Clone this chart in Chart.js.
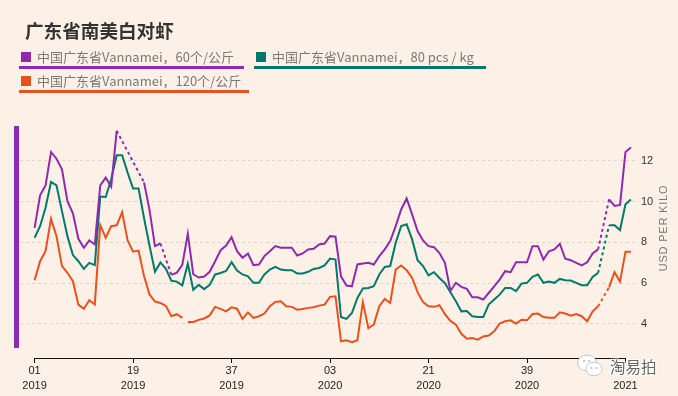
<!DOCTYPE html>
<html>
<head>
<meta charset="utf-8">
<script src="https://cdn.jsdelivr.net/npm/chart.js@4/dist/chart.umd.min.js"></script>
<style>
  html, body { margin: 0; padding: 0; background: #fdf1e7; }
  #wrap { position: relative; width: 678px; height: 396px; overflow: hidden; background: #fdf1e7; }
  #c { position: absolute; left: 0; top: 0; }
  .title { position: absolute; left: 25px; top: 16px; font: 700 18.6px "Noto Sans CJK SC", sans-serif; color: #333; letter-spacing: 0; white-space: nowrap; }
  .leg { position: absolute; height: 20px; white-space: nowrap; font: 13px "Noto Sans CJK SC", sans-serif; color: #7a7a7a; line-height: 18px; }
  .leg .sq { position: absolute; left: 2px; top: 4px; width: 10px; height: 10px; }
  .leg .tx { position: absolute; left: 18px; top: 0; }
  .leg .ul { position: absolute; left: 0; height: 2.5px; top: 18px; }
  .bar { position: absolute; left: 14px; top: 126px; width: 5px; height: 222px; background: #8e2aad; }
  .wm { position: absolute; left: 610px; top: 355px; font: 15.5px "Noto Sans CJK SC", sans-serif; color: #666;
        text-shadow: -1px -1px 0 #fff, 1px -1px 0 #fff, -1px 1px 0 #fff, 1px 1px 0 #fff, 0 0 2px #fff; letter-spacing: 0; }
  .wmi { position: absolute; left: 576px; top: 353px; }
</style>
</head>
<body>
<div id="wrap">
  <canvas id="c" width="678" height="396"></canvas>
  <div class="title">广东省南美白对虾</div>
  <div id="legend"></div>
  <div class="bar"></div>
  <svg class="wmi" width="28" height="26" viewBox="0 0 28 26">
    <ellipse cx="11" cy="10" rx="9.5" ry="8" fill="#fff" stroke="#c8c8c8" stroke-width="1"/>
    <ellipse cx="18" cy="16" rx="8" ry="6.8" fill="#fff" stroke="#c8c8c8" stroke-width="1"/>
    <circle cx="8" cy="8" r="1.1" fill="#bbb"/><circle cx="13" cy="8" r="1.1" fill="#bbb"/>
    <circle cx="15.5" cy="15" r="0.9" fill="#bbb"/><circle cx="20.5" cy="15" r="0.9" fill="#bbb"/>
  </svg>
  <div class="wm">淘易拍</div>
</div>
<script>
// ---- data ----
const years = [2019, 2020, 2021];
const weeksPerYear = [52, 53, 5];
const weeks = [];
years.forEach((y, k) => { for (let w = 1; w <= weeksPerYear[k]; w++) weeks.push(y + '-W' + String(w).padStart(2, '0')); });

const tickIdx = [0, 18, 36, 54, 72, 90, 108];
const tickLabels = [["01", "2019"], ["19", "2019"], ["37", "2019"], ["03", "2020"], ["21", "2020"], ["39", "2020"], ["", "2021"]];

const seriesNames = ["中国广东省Vannamei，60个/公斤", "中国广东省Vannamei，80 pcs / kg", "中国广东省Vannamei，120个/公斤"];
const seriesColors = ["#8e2aad", "#00796b", "#e8501d"];

const purple60 = [8.72,10.31,10.80,12.44,12.11,11.59,10.03,9.43,8.18,7.74,
  8.10,7.90,10.80,11.18,10.74,13.48,null,null,null,null,
  10.95,9.60,7.82,7.95,null,6.41,6.52,6.90,8.43,6.44,
  6.28,6.33,6.56,7.08,7.62,7.85,8.26,7.57,7.25,7.46,
  6.89,6.92,7.33,7.57,7.82,7.74,7.74,7.74,7.36,7.46,
  7.66,7.69,7.90,7.95,8.31,8.28,6.34,5.89,5.85,6.92,
  6.97,7.00,6.92,7.33,7.66,8.07,8.80,9.62,10.16,9.38,
  8.56,8.10,7.82,7.77,7.48,7.00,5.62,6.02,5.82,5.72,
  5.31,5.31,5.20,5.52,5.85,6.18,6.59,6.54,7.03,7.03,
  7.03,7.82,7.82,7.16,7.57,7.66,7.93,7.20,7.13,7.00,
  6.87,7.03,7.46,7.66,null,10.11,9.79,9.84,12.44,12.66];

const green80 = [8.23,8.80,9.70,10.97,10.80,9.54,8.31,7.38,7.08,6.70,
  7.00,6.89,10.25,10.23,11.10,12.28,12.28,11.43,10.65,10.65,
  9.20,7.85,6.56,7.02,6.71,6.12,6.08,5.90,6.96,5.68,
  5.92,5.71,5.92,6.43,6.50,6.60,7.03,6.62,6.43,6.34,
  6.02,6.02,6.43,6.67,6.80,6.67,6.64,6.64,6.48,6.48,
  6.56,6.70,6.75,6.87,7.21,7.16,4.34,4.25,4.54,5.28,
  5.74,5.77,5.85,6.43,6.80,6.84,7.98,8.80,8.89,8.15,
  7.13,6.84,6.38,6.54,6.26,6.00,5.56,5.11,4.62,4.64,
  4.38,4.34,4.34,4.95,5.20,5.44,5.77,5.77,5.61,5.98,
  6.02,6.31,6.43,6.02,6.08,6.02,6.21,6.15,6.13,6.02,
  5.90,5.90,6.31,6.51,null,8.84,8.84,8.61,9.87,10.11];

const orange120 = [6.15,7.08,7.57,9.16,8.31,6.84,6.51,6.10,4.95,4.74,
  5.16,4.95,8.85,8.23,8.80,8.84,9.49,8.10,7.55,7.60,
  6.35,5.45,5.10,5.03,4.88,4.38,4.48,4.30,4.10,4.10,
  4.20,4.27,4.42,4.84,4.74,4.62,4.82,4.75,4.25,4.57,
  4.30,4.38,4.51,4.87,5.08,5.11,4.87,4.84,4.70,4.74,
  4.79,4.82,4.90,4.95,5.33,5.36,3.15,3.20,3.11,3.20,
  5.07,3.80,3.97,4.87,5.23,5.03,6.67,6.87,6.64,6.26,
  5.56,5.07,4.87,4.84,4.92,4.48,4.15,3.97,3.52,3.28,
  3.31,3.23,3.39,3.43,3.64,4.02,4.13,4.18,4.02,4.21,
  4.18,4.49,4.51,4.34,4.30,4.30,4.57,4.51,4.41,4.49,
  4.38,4.13,4.62,4.87,null,5.80,6.54,6.08,7.55,7.55];

// segments that are not drawn (break in the line, no dashes): index of segment start
const purpleBreaks = [];
const greenBreaks = [];
const orangeBreaks = [27];

const seriesValues = [purple60, green80, orange120];
const seriesBreaks = [purpleBreaks, greenBreaks, orangeBreaks];

// ---- legend (HTML) ----
const legendPos = [{l: 19, t: 48, w: 225}, {l: 254, t: 48, w: 232}, {l: 19, t: 72, w: 230}];
const legend = document.getElementById('legend');
seriesNames.forEach((n, k) => {
  const d = document.createElement('div');
  d.className = 'leg';
  d.style.left = legendPos[k].l + 'px';
  d.style.top = legendPos[k].t + 'px';
  d.style.width = legendPos[k].w + 'px';
  d.innerHTML = '<span class="sq" style="background:' + seriesColors[k] + '"></span><span class="tx"></span><span class="ul" style="width:100%;background:' + seriesColors[k] + '"></span>';
  d.querySelector('.tx').textContent = n;
  legend.appendChild(d);
});

// ---- chart ----
const datasets = seriesValues.map((vals, k) => ({
  label: seriesNames[k],
  data: vals.map((v, i) => ({x: i, y: v})),
  borderColor: seriesColors[k],
  borderWidth: 2,
  pointRadius: 0,
  pointHoverRadius: 0,
  tension: 0,
  spanGaps: true,
  segment: {
    borderDash: ctx => (ctx.p1DataIndex > 0 && vals[ctx.p1DataIndex - 1] == null ? [3, 3] : undefined),
    borderColor: ctx => (seriesBreaks[k].includes(ctx.p1DataIndex - 1) && vals[ctx.p1DataIndex - 1] != null ? 'rgba(0,0,0,0)' : undefined)
  }
}));

const decor = {
  id: 'decor',
  afterDraw(chart) {
    const {ctx, chartArea, scales} = chart;
    const x = scales.x;
    ctx.save();
    ctx.strokeStyle = '#111';
    ctx.lineWidth = 1;
    ctx.beginPath();
    const yb = Math.round(chartArea.bottom) + 0.5;
    ctx.moveTo(x.getPixelForValue(tickIdx[0]), yb);
    ctx.lineTo(x.getPixelForValue(tickIdx[tickIdx.length - 1]), yb);
    ctx.stroke();
    // y axis title
    ctx.translate(663.5, 228);
    ctx.rotate(-Math.PI / 2);
    ctx.fillStyle = '#777';
    ctx.font = '11px "Liberation Sans", Arial, sans-serif';
    if ('letterSpacing' in ctx) ctx.letterSpacing = '0.8px';
    ctx.textAlign = 'center';
    ctx.textBaseline = 'middle';
    ctx.fillText('USD PER KILO', 0, 0);
    ctx.restore();
  }
};

new Chart(document.getElementById('c'), {
  type: 'line',
  data: { labels: weeks, datasets },
  options: {
    responsive: false,
    animation: false,
    events: [],
    layout: { padding: { left: 20, top: 120, right: 0, bottom: 0 } },
    plugins: { legend: { display: false }, tooltip: { enabled: false } },
    scales: {
      x: {
        type: 'linear',
        min: -2.67,
        max: 109.74,
        afterBuildTicks: s => { s.ticks = tickIdx.map(v => ({value: v})); },
        afterFit: s => { s.height = 38; },
        grid: { drawOnChartArea: false, drawTicks: true, tickLength: 5, color: '#111', lineWidth: 1 },
        border: { display: false },
        ticks: {
          autoSkip: false, maxRotation: 0, padding: 1,
          color: '#222',
          font: { family: '"Liberation Sans", Arial, sans-serif', size: 11, lineHeight: 1.35 },
          callback: v => tickLabels[tickIdx.indexOf(v)]
        }
      },
      y: {
        position: 'right',
        min: 2.33,
        max: 14.01,
        afterBuildTicks: s => { s.ticks = [4, 6, 8, 10, 12].map(v => ({value: v})); },
        afterFit: s => { s.width = 43; },
        grid: { drawTicks: false, color: '#dcd4cb', lineWidth: 1 },
        border: { display: false, dash: [3, 3] },
        ticks: {
          padding: 6,
          color: '#333',
          font: { family: '"Liberation Sans", Arial, sans-serif', size: 11 },
          callback: v => String(v)
        }
      }
    }
  },
  plugins: [decor]
});
</script>
</body>
</html>
